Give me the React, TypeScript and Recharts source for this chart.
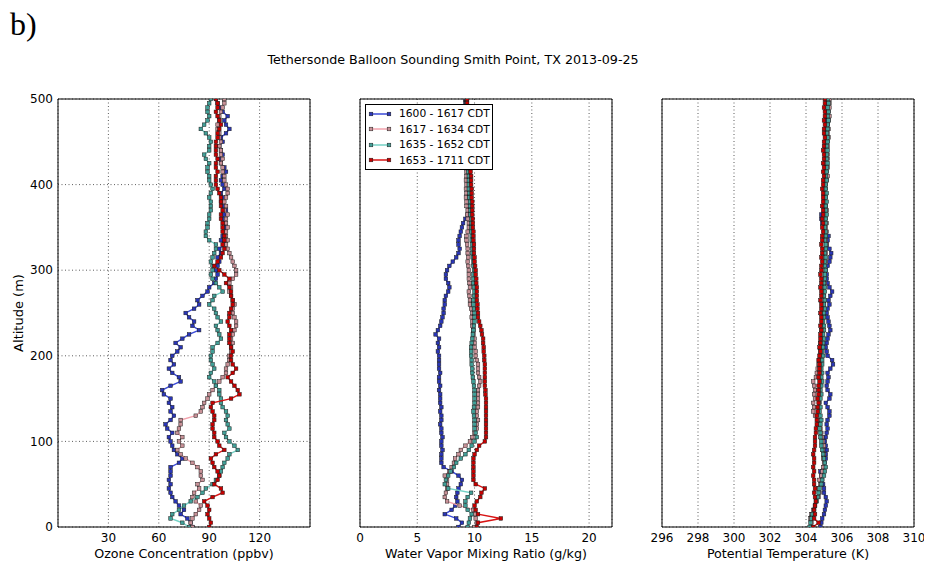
import React from 'react';
import { ScatterChart, Scatter, XAxis, YAxis, CartesianGrid, ReferenceArea, Legend, Label } from 'recharts';

const altitudes = [
  0, 5, 10, 15, 20, 25, 30, 35, 40, 45,
  50, 55, 60, 65, 70, 75, 80, 85, 90, 95,
  100, 105, 110, 115, 120, 125, 130, 135, 140, 145,
  150, 155, 160, 165, 170, 175, 180, 185, 190, 195,
  200, 205, 210, 215, 220, 225, 230, 235, 240, 245,
  250, 255, 260, 265, 270, 275, 280, 285, 290, 295,
  300, 305, 310, 315, 320, 325, 330, 335, 340, 345,
  350, 355, 360, 365, 370, 375, 380, 385, 390, 395,
  400, 405, 410, 415, 420, 425, 430, 435, 440, 445,
  450, 455, 460, 465, 470, 475, 480, 485, 490, 495,
  500,
];

const seriesNames = ['1600 - 1617 CDT', '1617 - 1634 CDT', '1635 - 1652 CDT', '1653 - 1711 CDT'];
const lineColors = ['#3a4ad8', '#f2a2ac', '#74d2c6', '#d81414'];
const markerColors = ['#2a36b8', '#c99298', '#42a098', '#c80000'];

const ozoneBlue = [
  80, 79, 77, 73, 75, 72, 70, 68, 67, 66,
  67, 66, 67, 67, 67, 72, 74, 71, 69, 68,
  67, 66, 68, 65, 64, 67, 69, 67, 68, 66,
  67, 63, 62, 67, 73, 72, 68, 66, 69, 67,
  68, 71, 73, 70, 74, 78, 84, 80, 81, 78,
  76, 81, 84, 83, 86, 89, 90, 93, 94, 95,
  94, 95, 96, 95, 97, 96, 99, 97, 98, 99,
  100, 99, 98, 99, 100, 98, 97, 98, 97, 99,
  98, 97, 98, 100, 99, 97, 96, 98, 97, 96,
  98, 97, 100, 102, 100, 99, 101, 98, 96, 95,
  94,
];
const ozonePink = [
  80, 79, 80, 82, 84, 85, 82, 80, 81, 84,
  83, 86, 85, 85, 83, 80, 76, 73, 71, 74,
  72, 74, 71, 72, 73, 73, 82, 85, 86, 87,
  89, 90, 92, 94, 96, 98, 100, 100, 101, 102,
  102, 103, 103, 104, 103, 104, 105, 106, 106, 105,
  104, 104, 105, 104, 103, 102, 103, 102, 104, 106,
  106, 105, 104, 103, 102, 101, 100, 101, 100, 100,
  101, 100, 100, 101, 99, 100, 99, 100, 101, 101,
  100, 99, 99, 98, 98, 97, 98, 97, 97, 96,
  97, 96, 96, 95, 95, 96, 96, 97, 98, 99,
  99,
];
const ozoneTeal = [
  78, 74, 67, 68, 72, 75, 79, 83, 86, 88,
  92, 94, 96, 97, 98, 99, 101, 102, 107, 105,
  102, 100, 99, 102, 101, 100, 101, 100, 98, 97,
  97, 96, 96, 94, 93, 90, 91, 93, 92, 91,
  91, 92, 92, 95, 97, 96, 95, 94, 97, 95,
  94, 93, 90, 92, 93, 98, 96, 94, 92, 91,
  92, 92, 91, 92, 93, 94, 94, 90, 88, 88,
  89, 89, 90, 90, 91, 91, 91, 90, 91, 92,
  91, 90, 90, 89, 89, 90, 88, 87, 90, 90,
  91, 90, 88, 85, 87, 89, 90, 89, 89, 90,
  91,
];
const ozoneRed = [
  90, 91, 90, 89, 90, 89, 87, 92, 98, 97,
  93, 95, 96, 95, 93, 92, 91, 94, 99, 96,
  95, 93, 93, 92, 92, 93, 93, 92, 91, 92,
  103, 108, 107, 105, 103, 101, 104, 106, 104, 103,
  103, 104, 103, 102, 102, 102, 103, 102, 101, 102,
  102, 103, 104, 104, 103, 103, 102, 100, 102, 99,
  96, 93, 95, 97, 98, 99, 98, 99, 99, 98,
  98, 98, 97, 97, 98, 97, 97, 97, 96, 95,
  94, 94, 94, 95, 94, 94, 95, 94, 94, 94,
  94, 95, 95, 96, 97, 96, 95, 94, 95, 95,
  94,
];

const wvBlue = [
  8.6, 8.9, 8.4, 7.4, 8.0, 8.3, 8.5, 8.4, 8.5, 8.6,
  8.8, 8.9, 8.6, 8.0, 7.3, 7.1, 7.1, 7.1, 7.2, 7.1,
  7.1, 7.2, 7.1, 7.1, 7.0, 7.1, 7.1, 7.0, 7.1, 7.0,
  7.0, 7.0, 6.9, 7.0, 6.9, 6.9, 7.0, 6.9, 6.9, 6.9,
  6.9, 6.8, 6.9, 6.8, 6.9, 6.6, 6.8, 7.0, 7.1, 7.2,
  7.3, 7.3, 7.4, 7.4, 7.5, 7.7, 7.8, 7.7, 7.5, 7.5,
  7.6, 7.8, 8.1, 8.4, 8.6, 8.7, 8.6, 8.6, 8.7, 8.8,
  8.9, 9.0, 9.2, 9.4, 9.5, 9.5, 9.6, 9.6, 9.6, 9.7,
  9.6, 9.6, 9.5, 9.6, 9.5, 9.5, 9.5, 9.4, 9.5, 9.4,
  9.4, 9.4, 9.3, 9.3, 9.3, 9.3, 9.3, 9.2, 9.2, 9.2,
  9.2,
];
const wvPink = [
  10.0, 10.2, 10.1, 10.0, 9.9, 8.7, 7.6, 7.4, 7.5, 7.6,
  7.6, 7.6, 7.4, 7.8, 8.0, 8.2, 8.3, 8.6, 8.8, 9.2,
  9.6, 9.8, 10.0, 10.2, 10.2, 10.3, 10.2, 10.2, 10.3, 10.3,
  10.3, 10.3, 10.3, 10.4, 10.5, 10.4, 10.3, 10.3, 10.3, 10.2,
  10.1, 10.1, 10.0, 10.0, 10.0, 9.9, 9.9, 9.8, 9.8, 9.75,
  9.8, 9.7, 9.6, 9.6, 9.55, 9.5, 9.6, 9.55, 9.5, 9.5,
  9.5, 9.45, 9.4, 9.45, 9.4, 9.4, 9.35, 9.3, 9.3, 9.4,
  9.5, 9.5, 9.4, 9.35, 9.4, 9.3, 9.3, 9.25, 9.3, 9.25,
  9.3, 9.25, 9.3, 9.3, 9.3, 9.3, 9.25, 9.3, 9.3, 9.25,
  9.3, 9.3, 9.3, 9.25, 9.3, 9.3, 9.2, 9.25, 9.3, 9.3,
  9.3,
];
const wvTeal = [
  9.4, 9.5, 9.6, 9.75, 9.4, 9.2, 9.2, 9.4, 9.7, 7.7,
  7.4, 7.5, 7.7, 7.9, 8.2, 8.4, 8.8, 9.2, 9.5, 9.75,
  10.0, 10.2, 10.1, 10.0, 10.0, 10.0, 9.95, 9.9, 9.95, 10.0,
  10.0, 10.0, 10.0, 9.95, 9.9, 9.85, 9.8, 9.8, 9.75, 9.75,
  9.7, 9.7, 9.7, 9.75, 9.8, 9.85, 9.9, 9.95, 10.0, 10.0,
  10.0, 9.95, 9.9, 9.9, 9.95, 10.0, 9.95, 9.9, 9.9, 9.9,
  9.95, 9.9, 9.9, 9.85, 9.8, 9.8, 9.8, 9.75, 9.75, 9.7,
  9.7, 9.7, 9.7, 9.65, 9.65, 9.6, 9.6, 9.55, 9.55, 9.5,
  9.5, 9.5, 9.5, 9.45, 9.45, 9.45, 9.4, 9.4, 9.4, 9.4,
  9.4, 9.4, 9.35, 9.35, 9.35, 9.35, 9.3, 9.3, 9.3, 9.3,
  9.3,
];
const wvRed = [
  10.2, 10.3, 12.3, 10.3, 10.1, 10.0, 10.2, 10.5, 10.6, 10.9,
  10.1, 9.9, 9.9, 9.9, 9.9, 9.9, 9.9, 10.0, 10.2, 10.4,
  10.9, 11.0, 11.0, 11.0, 11.0, 11.0, 11.0, 11.0, 11.0, 11.0,
  11.0, 10.95, 10.95, 10.9, 10.9, 10.9, 10.9, 10.9, 10.9, 10.85,
  10.85, 10.8, 10.8, 10.75, 10.75, 10.65, 10.6, 10.5, 10.4, 10.3,
  10.3, 10.25, 10.25, 10.2, 10.2, 10.2, 10.2, 10.15, 10.15, 10.1,
  10.1, 10.05, 10.0, 10.0, 9.95, 9.95, 9.95, 9.9, 9.9, 9.9,
  9.85, 9.85, 9.85, 9.8, 9.8, 9.8, 9.8, 9.75, 9.75, 9.75,
  9.7, 9.7, 9.7, 9.65, 9.65, 9.6, 9.6, 9.6, 9.55, 9.55,
  9.5, 9.5, 9.5, 9.45, 9.45, 9.45, 9.4, 9.4, 9.4, 9.35,
  9.35,
];

const thetaBlue = [
  304.8, 304.85, 304.9, 305.0, 305.05, 305.1, 305.15, 305.1, 305.0, 305.0,
  304.95, 304.9, 304.85, 304.8, 305.0, 305.05, 305.1, 305.1, 305.15, 305.1,
  305.05, 305.1, 305.15, 305.2, 305.15, 305.2, 305.3, 305.3, 305.2, 305.1,
  305.3, 305.35, 305.2, 305.15, 305.2, 305.25, 305.2, 305.35, 305.5, 305.45,
  305.2, 305.15, 305.1, 305.15, 305.2, 305.25, 305.35, 305.3, 305.25, 305.2,
  305.15, 305.2, 305.3, 305.25, 305.35, 305.45, 305.3, 305.2, 305.15, 305.15,
  305.1, 305.2, 305.3, 305.35, 305.4, 305.3, 305.15, 305.2, 305.25, 305.1,
  305.0, 304.9, 304.85, 304.85, 305.0, 305.1, 305.0, 305.0, 305.05, 305.0,
  305.05, 305.05, 305.1, 305.05, 305.1, 305.05, 305.1, 305.1, 305.1, 305.1,
  305.15, 305.1, 305.15, 305.15, 305.2, 305.15, 305.2, 305.15, 305.2, 305.2,
  305.2,
];
const thetaPink = [
  304.4, 304.3, 304.25, 304.3, 304.4, 304.5, 304.55, 304.7, 304.75, 304.7,
  304.8, 304.75, 304.85, 304.9, 304.95, 305.0, 304.95, 305.0, 304.95, 305.0,
  304.95, 304.9, 304.85, 304.8, 304.75, 304.7, 304.5, 304.4, 304.45, 304.4,
  304.5, 304.45, 304.5, 304.45, 304.4, 304.55, 304.6, 304.65, 304.7, 304.75,
  304.8, 304.8, 304.85, 304.8, 304.85, 304.9, 304.85, 304.9, 304.9, 304.95,
  304.9, 304.95, 305.0, 304.95, 305.0, 304.95, 305.0, 305.05, 305.0, 305.05,
  305.0, 305.05, 305.1, 305.05, 305.1, 305.1, 305.15, 305.1, 305.1, 305.15,
  305.1, 305.15, 305.1, 305.1, 305.15, 305.1, 305.05, 305.1, 305.05, 305.1,
  305.1, 305.15, 305.2, 305.15, 305.2, 305.15, 305.2, 305.2, 305.15, 305.2,
  305.2, 305.25, 305.2, 305.25, 305.2, 305.25, 305.3, 305.25, 305.3, 305.3,
  305.3,
];
const thetaTeal = [
  304.2, 304.25, 304.3, 304.35, 304.45, 304.5, 304.6, 304.65, 304.7, 304.75,
  304.85, 304.9, 305.0, 305.05, 305.1, 305.05, 305.0, 304.95, 304.9, 304.85,
  304.85, 304.8, 304.8, 304.75, 304.8, 304.85, 304.8, 304.75, 304.8, 304.75,
  304.8, 304.85, 304.8, 304.85, 304.9, 304.85, 304.9, 304.85, 304.9, 304.9,
  304.95, 304.9, 304.95, 304.95, 305.0, 304.95, 305.0, 305.0, 304.95, 305.0,
  305.0, 305.05, 305.0, 305.05, 305.0, 305.05, 305.05, 305.0, 305.05, 305.05,
  305.1, 305.05, 305.05, 305.1, 305.05, 305.1, 305.1, 305.05, 305.1, 305.1,
  305.05, 305.1, 305.1, 305.15, 305.1, 305.1, 305.15, 305.1, 305.15, 305.1,
  305.1, 305.15, 305.1, 305.15, 305.15, 305.2, 305.15, 305.15, 305.2, 305.15,
  305.2, 305.2, 305.15, 305.2, 305.2, 305.25, 305.2, 305.25, 305.2, 305.25,
  305.2,
];
const thetaRed = [
  304.4, 304.7, 304.45, 304.5, 304.45, 304.5, 304.55, 304.5, 304.45, 304.5,
  304.45, 304.45, 304.4, 304.45, 304.4, 304.45, 304.45, 304.4, 304.45, 304.5,
  304.5, 304.5, 304.55, 304.55, 304.6, 304.6, 304.6, 304.65, 304.65, 304.7,
  304.65, 304.7, 304.7, 304.7, 304.75, 304.7, 304.75, 304.75, 304.75, 304.7,
  304.75, 304.8, 304.75, 304.8, 304.8, 304.8, 304.85, 304.8, 304.85, 304.85,
  304.8, 304.85, 304.85, 304.8, 304.85, 304.85, 304.8, 304.85, 304.85, 304.8,
  304.85, 304.85, 304.9, 304.85, 304.9, 304.9, 304.85, 304.9, 304.9, 304.95,
  304.9, 304.95, 304.9, 304.95, 304.95, 304.9, 304.95, 304.95, 304.95, 304.9,
  304.95, 304.95, 305.0, 304.95, 305.0, 304.95, 305.0, 305.0, 304.95, 305.0,
  305.0, 305.05, 305.0, 305.0, 305.05, 305.0, 305.05, 305.05, 305.0, 305.05,
  305.05,
];

const altTicks = [0, 100, 200, 300, 400, 500];
const ozoneTicks = [30, 60, 90, 120];
const wvTicks = [0, 5, 10, 15, 20];
const thetaTicks = [296, 298, 300, 302, 304, 306, 308, 310];

const FONT = '"DejaVu Sans", sans-serif';

const toPoints = (vals: number[]) => vals.map((v, i) => ({ x: v, y: altitudes[i] }));

const squareShape = (fill: string) => (props: any) => {
  const { cx, cy } = props;
  if (cx == null || cy == null) return <g />;
  return <rect x={cx - 1.8} y={cy - 1.8} width={3.6} height={3.6} fill={fill} stroke="#1a1a1a" strokeWidth={0.5} />;
};

const renderLegend = () => (
  <div
    style={{
      border: '1px solid #000',
      background: '#fff',
      width: 128,
      height: 66,
      boxSizing: 'border-box',
      paddingTop: 1,
      fontFamily: FONT,
    }}
  >
    {seriesNames.map((n, i) => (
      <div key={n} style={{ display: 'flex', alignItems: 'center', height: 15.5 }}>
        <svg width={33} height={10} style={{ display: 'block' }}>
          <line x1={5} x2={23} y1={5} y2={5} stroke={lineColors[i]} strokeWidth={1.5} />
          <rect x={3.2} y={3.2} width={3.6} height={3.6} fill={markerColors[i]} stroke="#1a1a1a" strokeWidth={0.5} />
          <rect x={21.2} y={3.2} width={3.6} height={3.6} fill={markerColors[i]} stroke="#1a1a1a" strokeWidth={0.5} />
        </svg>
        <span style={{ fontSize: 10.7, color: '#000', whiteSpace: 'nowrap' }}>{n}</span>
      </div>
    ))}
  </div>
);

type PanelProps = {
  left: number;
  domain: [number, number];
  ticks: number[];
  xLabel: string;
  series: number[][];
  showY?: boolean;
  showLegend?: boolean;
};

function Panel({ left, domain, ticks, xLabel, series, showY, showLegend }: PanelProps) {
  return (
    <div style={{ position: 'absolute', left, top: 0 }}>
      <ScatterChart width={320} height={565} margin={{ top: 99, right: 10, bottom: 0, left: 0 }}>
        <CartesianGrid stroke="#333" strokeDasharray="1 2.5" strokeWidth={0.8} />
        <XAxis
          type="number"
          dataKey="x"
          domain={domain}
          ticks={ticks}
          interval={0}
          allowDataOverflow
          height={38}
          axisLine={false}
          tickLine={false}
          tickSize={4}
          tickMargin={2}
          tick={{ fill: '#000', fontSize: 12, fontFamily: FONT }}
        >
          <Label
            value={xLabel}
            position="insideBottom"
            offset={7}
            style={{ fill: '#000', fontSize: 12.7, fontFamily: FONT }}
          />
        </XAxis>
        <YAxis
          type="number"
          dataKey="y"
          domain={[0, 500]}
          ticks={altTicks}
          interval={0}
          allowDataOverflow
          width={58}
          axisLine={false}
          tickLine={false}
          tickSize={3}
          tickMargin={2}
          tick={showY ? { fill: '#000', fontSize: 12, fontFamily: FONT } : false}
        >
          {showY ? (
            <Label
              content={(p: any) => {
                const vb = p.viewBox || { x: 0, y: 99, width: 58, height: 428 };
                const cx = vb.x + 18;
                const cy = vb.y + vb.height / 2;
                return (
                  <text
                    x={cx}
                    y={cy}
                    transform={`rotate(-90 ${cx} ${cy})`}
                    textAnchor="middle"
                    dominantBaseline="central"
                    style={{ fill: '#000', fontSize: 13, fontFamily: FONT }}
                  >
                    Altitude (m)
                  </text>
                );
              }}
            />
          ) : null}
        </YAxis>
        {series.map((vals, i) => (
          <Scatter
            key={seriesNames[i]}
            name={seriesNames[i]}
            data={toPoints(vals)}
            line={{ stroke: lineColors[i], strokeWidth: 1.4 }}
            lineJointType="linear"
            shape={squareShape(markerColors[i])}
            isAnimationActive={false}
          />
        ))}
        <ReferenceArea
          x1={domain[0]}
          x2={domain[1]}
          y1={0}
          y2={500}
          fill="none"
          fillOpacity={0}
          stroke="#000"
          strokeWidth={1}
          ifOverflow="visible"
        />
        {showLegend ? (
          <Legend
            layout="vertical"
            align="center"
            verticalAlign="middle"
            content={renderLegend}
            wrapperStyle={{ left: 63, top: 104, width: 128, height: 66 }}
          />
        ) : null}
      </ScatterChart>
    </div>
  );
}

export default function App() {
  return (
    <div style={{ position: 'absolute', left: 0, top: 0, width: 928, height: 565, background: '#fff', overflow: 'hidden' }}>
      <div
        style={{
          position: 'absolute',
          left: 10,
          top: 4,
          fontFamily: '"Liberation Serif", "DejaVu Serif", serif',
          fontSize: 32,
          color: '#000',
          lineHeight: '40px',
        }}
      >
        b)
      </div>
      <div
        style={{
          position: 'absolute',
          left: 453,
          top: 52,
          transform: 'translateX(-50%)',
          whiteSpace: 'nowrap',
          fontFamily: FONT,
          fontSize: 12.7,
          color: '#000',
          lineHeight: '16px',
        }}
      >
        Tethersonde Balloon Sounding Smith Point, TX 2013-09-25
      </div>
      <Panel
        left={0}
        domain={[0, 150]}
        ticks={ozoneTicks}
        xLabel="Ozone Concentration (ppbv)"
        series={[ozoneBlue, ozonePink, ozoneTeal, ozoneRed]}
        showY
      />
      <Panel
        left={302}
        domain={[0, 22]}
        ticks={wvTicks}
        xLabel="Water Vapor Mixing Ratio (g/kg)"
        series={[wvBlue, wvPink, wvTeal, wvRed]}
        showLegend
      />
      <Panel
        left={604}
        domain={[296, 310]}
        ticks={thetaTicks}
        xLabel="Potential Temperature (K)"
        series={[thetaBlue, thetaPink, thetaTeal, thetaRed]}
      />
    </div>
  );
}
